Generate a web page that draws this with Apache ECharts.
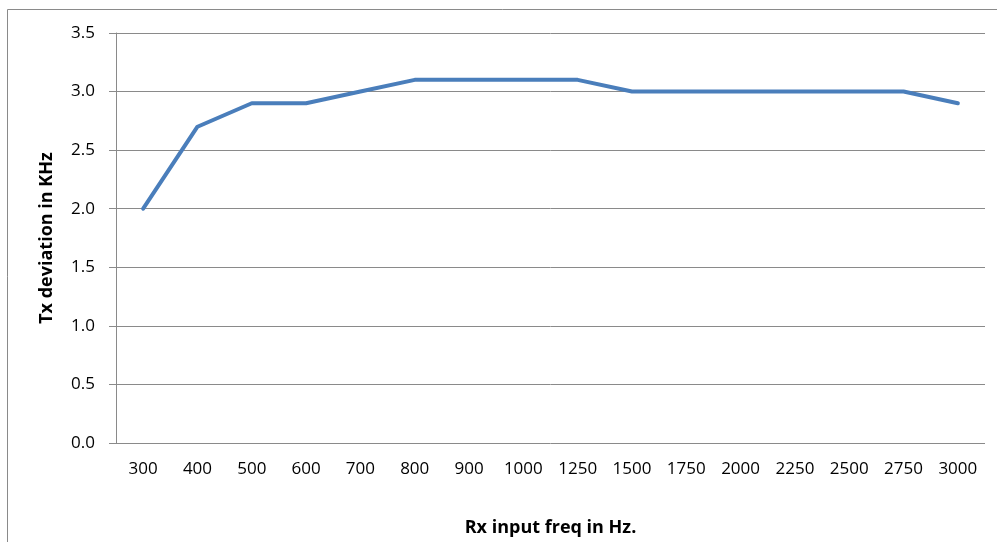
<!DOCTYPE html>
<html><head><meta charset="utf-8">
<script src="https://cdn.jsdelivr.net/npm/echarts@6/dist/echarts.min.js"></script>
<style>html,body{margin:0;padding:0;background:#fff;overflow:hidden}#c{width:997px;height:542px}</style>
</head><body><div id="c"></div>
<script>
const categories = ['300','400','500','600','700','800','900','1000','1250','1500','1750','2000','2250','2500','2750','3000'];
const deviation = [2.0, 2.7, 2.9, 2.9, 3.0, 3.1, 3.1, 3.1, 3.1, 3.0, 3.0, 3.0, 3.0, 3.0, 3.0, 2.9];
const xTitle = 'Rx input freq in Hz.';
const yTitle = 'Tx deviation in KHz';
const FONT = "'Open Sans', sans-serif";
const chart = echarts.init(document.getElementById('c'), null, {renderer:'canvas', width:997, height:542});
chart.setOption({
  animation:false,
  textStyle:{fontFamily:FONT},
  graphic:[{type:'rect', shape:{x:7.5,y:9.5,width:1100,height:700}, style:{fill:'none', stroke:'#8a8a8a', lineWidth:1}, silent:true, z:-1}],
  grid:{left:116, top:33, width:869, height:412, containLabel:false},
  xAxis:{type:'category', data:categories, boundaryGap:true,
    axisLine:{show:false}, axisTick:{show:false},
    axisLabel:{color:'#000', fontSize:17, margin:18, fontFamily:FONT, interval:0},
    name:xTitle, nameLocation:'middle', nameGap:76,
    nameTextStyle:{fontWeight:'bold', fontSize:18, color:'#000', fontFamily:FONT}},
  yAxis:{type:'value', min:0, max:3.5, interval:0.5,
    axisLine:{show:true, lineStyle:{color:'#8a8a8a', width:1}},
    axisTick:{show:true, length:7, inside:false, lineStyle:{color:'#8a8a8a'}},
    splitLine:{show:true, lineStyle:{color:'#8a8a8a', width:1}},
    axisLabel:{color:'#000', fontSize:17, margin:21, fontFamily:FONT, formatter:v=>v.toFixed(1)},
    name:yTitle, nameLocation:'middle', nameGap:60, nameRotate:90,
    nameTextStyle:{fontWeight:'bold', fontSize:18, color:'#000', fontFamily:FONT}},
  series:[{type:'line', data:deviation, showSymbol:false, symbol:'none',
    lineStyle:{color:'#4a7ebb', width:4, cap:'round', join:'round'}}]
});
</script></body></html>
